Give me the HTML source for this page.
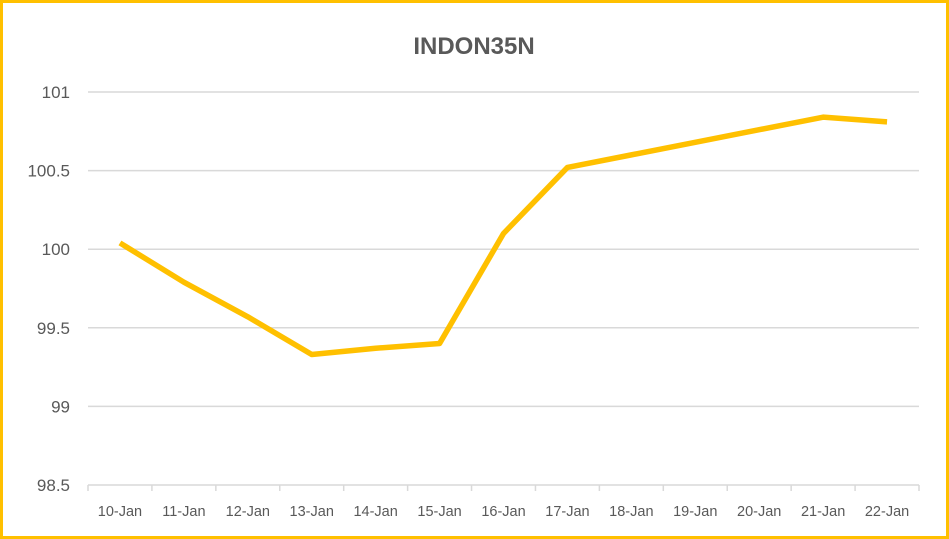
<!DOCTYPE html>
<html><head><meta charset="utf-8"><style>
html,body{margin:0;padding:0;background:#fff;}
#wrap{position:relative;width:949px;height:539px;box-sizing:border-box;border:3px solid #FFC000;background:#fff;}
svg{position:absolute;left:-3px;top:-3px;}
text{font-family:"Liberation Sans",sans-serif;fill:#595959;}
</style></head><body>
<div id="wrap">
<svg id="chart" width="949" height="539"></svg>
</div>
<script>
const categories=["10-Jan","11-Jan","12-Jan","13-Jan","14-Jan","15-Jan","16-Jan","17-Jan","18-Jan","19-Jan","20-Jan","21-Jan","22-Jan"];
const values=[100.04,99.79,99.57,99.33,99.37,99.40,100.10,100.52,100.60,100.68,100.76,100.84,100.81];
const yTicks=[98.5,99,99.5,100,100.5,101];
const yTickLabels=["98.5","99","99.5","100","100.5","101"];
const NS="http://www.w3.org/2000/svg";
const svg=document.getElementById('chart');
const L=88,R=919,T=92,B=485,yMin=98.5,yMax=101;
const step=(R-L)/categories.length;
const x=i=>L+step*(i+0.5);
const y=v=>B-(v-yMin)/(yMax-yMin)*(B-T);
function mk(t,a){const e=document.createElementNS(NS,t);for(const k in a)e.setAttribute(k,a[k]);svg.appendChild(e);return e;}
let t=mk('text',{x:474,y:54,'text-anchor':'middle','font-size':24,'font-weight':'bold'});
t.textContent="INDON35N";


yTicks.forEach((v,i)=>{
 if(i>0){const g=mk('line',{x1:L,x2:R,y1:y(v),y2:y(v),stroke:'#d9d9d9','stroke-width':1.5});
 
 }
 const lb=mk('text',{x:70,y:y(v)+6,'text-anchor':'end','font-size':17});
 lb.textContent=yTickLabels[i];
 
 
});
const ax=mk('line',{x1:L,x2:R,y1:B,y2:B,stroke:'#d9d9d9','stroke-width':1.5});


for(let i=0;i<=categories.length;i++){
 const tk=mk('line',{x1:L+step*i,x2:L+step*i,y1:B,y2:B+6,stroke:'#d9d9d9','stroke-width':1.5});
 
 
}
categories.forEach((c,i)=>{
 const lb=mk('text',{x:x(i),y:516,'text-anchor':'middle','font-size':14.5});
 lb.textContent=c;
 
 
});
const p=mk('polyline',{points:values.map((v,i)=>x(i)+','+y(v)).join(' '),fill:'none',stroke:'#FFC000','stroke-width':5.5,'stroke-linejoin':'round'});


</script>
</body></html>
